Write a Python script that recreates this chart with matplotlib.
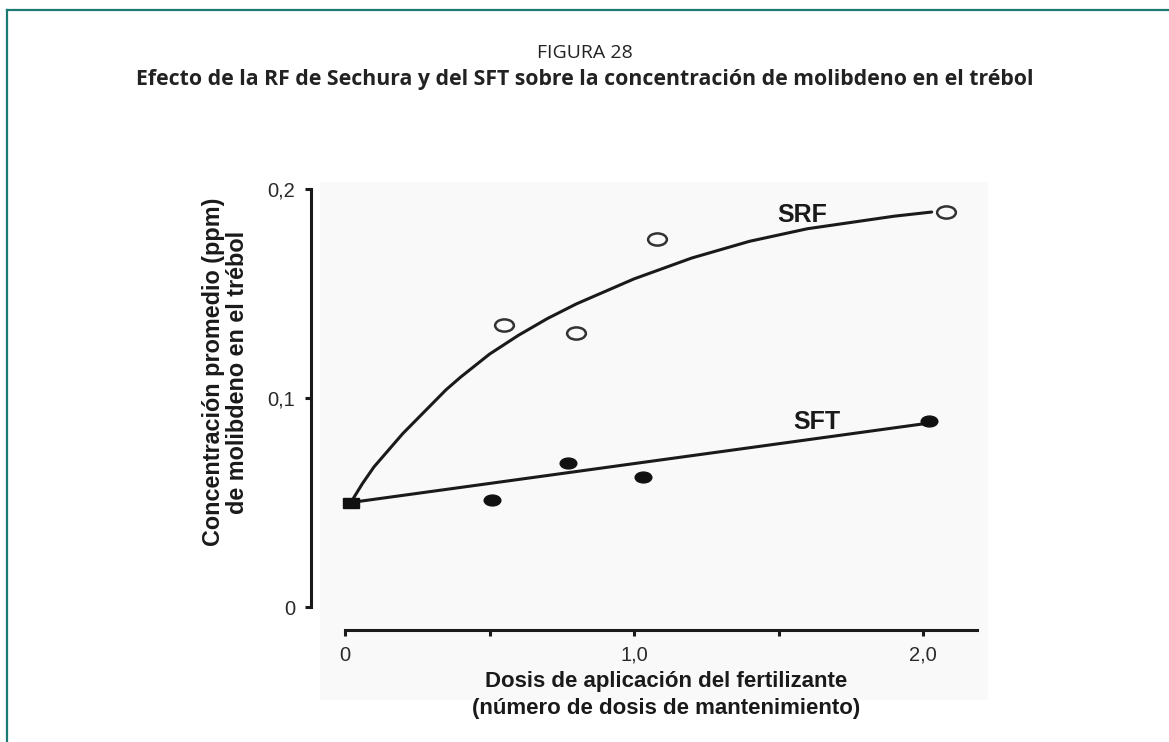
import matplotlib.pyplot as plt
from matplotlib.lines import Line2D
from matplotlib.markers import MarkerStyle
from matplotlib.patches import Rectangle
from matplotlib.transforms import Affine2D

# Datos
srf_x = [0.55, 0.80, 1.08, 2.08]
srf_y = [0.135, 0.131, 0.176, 0.189]
sft_x = [0.51, 0.77, 1.03, 2.02]
sft_y = [0.051, 0.069, 0.062, 0.089]
origen_x = [0.02]
origen_y = [0.050]

# Curva ajustada de SRF (puntos leídos a lo largo de la línea)
srf_curva_x = [0.02, 0.06, 0.10, 0.15, 0.20, 0.25, 0.30, 0.35, 0.40, 0.50, 0.60, 0.70,
               0.80, 0.90, 1.00, 1.10, 1.20, 1.30, 1.40, 1.50, 1.60, 1.70, 1.80, 1.90, 2.03]
srf_curva_y = [0.050, 0.059, 0.067, 0.075, 0.083, 0.090, 0.097, 0.104, 0.110, 0.121,
               0.130, 0.138, 0.145, 0.151, 0.157, 0.162, 0.167, 0.171, 0.175, 0.178,
               0.181, 0.183, 0.185, 0.187, 0.189]
# Recta de SFT
sft_recta_x = [0.02, 2.02]
sft_recta_y = [0.050, 0.088]

x_ticks = [0, 0.5, 1.0, 1.5, 2.0]
x_ticklabels = ['0', '', '1,0', '', '2,0']
y_ticks = [0, 0.1, 0.2]
y_ticklabels = ['0', '0,1', '0,2']

fig = plt.figure(figsize=(11.69, 7.42), dpi=100)
fig.patch.set_facecolor('white')

# Marco verde de la página
verde = '#1b7b72'
fig.add_artist(Line2D([7 / 1169, 1.0], [732 / 742, 732 / 742], transform=fig.transFigure,
                      color=verde, lw=1.6))
fig.add_artist(Line2D([7 / 1169, 7 / 1169], [0, 732 / 742], transform=fig.transFigure,
                      color=verde, lw=1.6))

# Títulos
fig.text(585 / 1169, 1 - 53 / 742, 'FIGURA 28', ha='center', va='center',
         fontsize=14, family='Open Sans', color='#222222')
fig.text(585 / 1169, 1 - 80 / 742,
         'Efecto de la RF de Sechura y del SFT sobre la concentración de molibdeno en el trébol',
         ha='center', va='center', fontsize=15.3, family='Open Sans', fontweight='bold',
         color='#222222')

ax = fig.add_axes([0.26299, 0.0411, 0.58838, 0.7323])
ax.set_xlim(-0.13, 2.25)
ax.set_ylim(-0.05, 0.21)
ax.set_facecolor('none')

# Fondo gris claro del gráfico escaneado
ax.add_patch(Rectangle((-0.086, -0.0445), 2.311, 0.248, facecolor='#f9f9f9',
                       edgecolor='none', zorder=0))

# Líneas
ax.plot(srf_curva_x, srf_curva_y, color='#1a1a1a', lw=2.2, solid_capstyle='round',
        solid_joinstyle='round', zorder=2)
ax.plot(sft_recta_x, sft_recta_y, color='#1a1a1a', lw=2.2, solid_capstyle='round', zorder=2)

# Marcadores (elípticos como en el original)
elipse = MarkerStyle('o', transform=Affine2D().scale(1, 0.65))
rect = MarkerStyle('s', transform=Affine2D().scale(1, 0.6))
ax.plot(srf_x, srf_y, linestyle='none', marker=elipse, markersize=13.5,
        markerfacecolor='#fafafa', markeredgecolor='#333333', markeredgewidth=1.8, zorder=3)
ax.plot(sft_x, sft_y, linestyle='none', marker=elipse, markersize=12,
        markerfacecolor='#111111', markeredgecolor='#111111', zorder=3)
ax.plot(origen_x, origen_y, linestyle='none', marker=rect, markersize=12,
        markerfacecolor='#111111', markeredgecolor='#111111', zorder=3)

# Etiquetas de las series
ax.text(1.583, 0.1876, 'SRF', ha='center', va='center', fontsize=18,
        family='Liberation Sans', fontweight='bold', color='#1a1a1a')
ax.text(1.633, 0.0885, 'SFT', ha='center', va='center', fontsize=18,
        family='Liberation Sans', fontweight='bold', color='#1a1a1a')

# Ejes separados
for s in ['top', 'right']:
    ax.spines[s].set_visible(False)
ax.spines['left'].set_position(('data', -0.1176))
ax.spines['left'].set_bounds(0, 0.2)
ax.spines['bottom'].set_position(('data', -0.011))
ax.spines['bottom'].set_bounds(0, 2.187)
for s in ['left', 'bottom']:
    ax.spines[s].set_linewidth(2.2)
    ax.spines[s].set_color('#1a1a1a')

ax.set_xticks(x_ticks)
ax.set_xticklabels(x_ticklabels)
ax.set_yticks(y_ticks)
ax.set_yticklabels(y_ticklabels)
ax.tick_params(axis='both', direction='out', length=4.3, width=2.2, color='#1a1a1a',
               labelsize=14.5, labelcolor='#2a2a2a', pad=7)
for lab in ax.get_xticklabels() + ax.get_yticklabels():
    lab.set_family('Liberation Sans')

# Títulos de los ejes
fig.text(225.5 / 1169, 1 - 372 / 742,
         'Concentración promedio (ppm)\nde molibdeno en el trébol',
         rotation=90, ha='center', va='center', multialignment='center',
         fontsize=16.8, family='Liberation Sans', fontweight='bold', color='#1a1a1a',
         linespacing=1.05)
fig.text(666 / 1169, 1 - 695 / 742,
         'Dosis de aplicación del fertilizante\n(número de dosis de mantenimiento)',
         ha='center', va='center', multialignment='center',
         fontsize=16, family='Liberation Sans', fontweight='bold', color='#1a1a1a',
         linespacing=1.35)

plt.savefig('out.png', dpi=100)
